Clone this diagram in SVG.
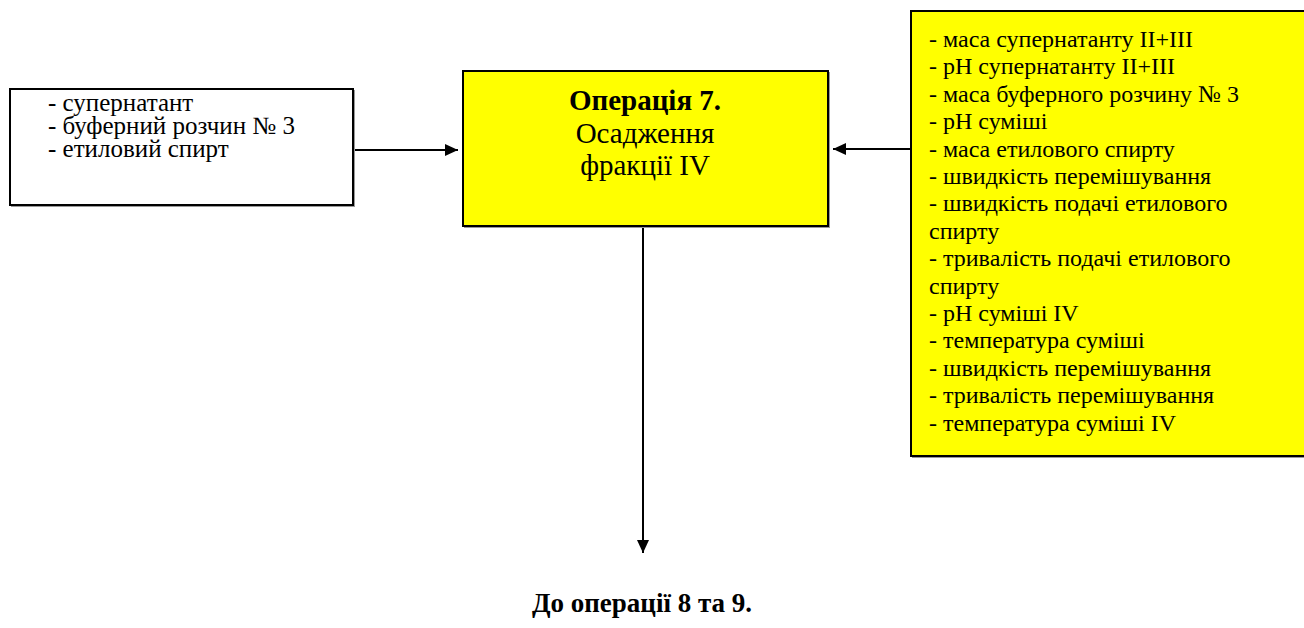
<svg xmlns="http://www.w3.org/2000/svg" width="1304" height="628" viewBox="0 0 1304 628">
  <style>
    .box { stroke: #000; stroke-width: 2; }
    .shadow { fill: none; stroke: #999; stroke-width: 1; }
    .plain { fill: #fff; }
    .hi { fill: #ffff00; }
    .t { font-family: "Liberation Serif", "Times New Roman", serif; fill: #000; }
    .list { font-size: 24px; }
    .inlist { font-size: 25px; }
    .head { font-size: 29px; text-anchor: middle; }
    .b { font-weight: bold; }
    .edge { stroke: #000; stroke-width: 2; fill: none; }
  </style>
  <defs>
    <marker id="arrow" viewBox="0 0 13 12" refX="13" refY="6" markerWidth="13" markerHeight="12" markerUnits="userSpaceOnUse" orient="auto">
      <path d="M0,0 L13,6 L0,12 Z" fill="#000"/>
    </marker>
  </defs>

  <rect width="1304" height="628" fill="#fff"/>

  <!-- input materials -->
  <g id="inputs">
    <rect class="shadow" x="11.5" y="90.5" width="343" height="116"/>
    <rect class="box plain" x="10" y="89" width="343" height="116"/>
    <text class="t inlist" x="48" y="111">- супернатант</text>
    <text class="t inlist" x="48" y="134">- буферний розчин № 3</text>
    <text class="t inlist" x="48" y="157">- етиловий спирт</text>
  </g>

  <!-- operation 7 -->
  <g id="operation7">
    <rect class="shadow" x="464.5" y="72.5" width="365" height="155"/>
    <rect class="box hi" x="463" y="71" width="365" height="155"/>
    <text class="t head b" x="645" y="110">Операція 7.</text>
    <text class="t head" x="645" y="143">Осадження</text>
    <text class="t head" x="645" y="175">фракції IV</text>
  </g>

  <!-- controlled parameters -->
  <g id="parameters">
    <rect class="shadow" x="912.5" y="12.5" width="400" height="445"/>
    <rect class="box hi" x="911" y="11" width="400" height="445"/>
    <g class="t list">
      <text x="929" y="47">- маса супернатанту II+III</text>
      <text x="929" y="74.4">- рН супернатанту II+III</text>
      <text x="929" y="101.8">- маса буферного розчину № 3</text>
      <text x="929" y="129.2">- рН суміші</text>
      <text x="929" y="156.6">- маса етилового спирту</text>
      <text x="929" y="184">- швидкість перемішування</text>
      <text x="929" y="211.4">- швидкість подачі етилового</text>
      <text x="929" y="238.8">спирту</text>
      <text x="929" y="266.2">- тривалість подачі етилового</text>
      <text x="929" y="293.6">спирту</text>
      <text x="929" y="321">- рН суміші IV</text>
      <text x="929" y="348.4">- температура суміші</text>
      <text x="929" y="375.8">- швидкість перемішування</text>
      <text x="929" y="403.2">- тривалість перемішування</text>
      <text x="929" y="430.6">- температура суміші IV</text>
    </g>
  </g>

  <!-- next step -->
  <g id="next">
    <text class="t b" x="642" y="612" font-size="27" text-anchor="middle">До операції 8 та 9.</text>
  </g>

  <g id="connectors">
    <line class="edge" x1="355" y1="150" x2="458" y2="150" marker-end="url(#arrow)"/>
    <line class="edge" x1="910" y1="149" x2="833" y2="149" marker-end="url(#arrow)"/>
    <line class="edge" x1="643" y1="228" x2="643" y2="553" marker-end="url(#arrow)"/>
  </g>
</svg>
